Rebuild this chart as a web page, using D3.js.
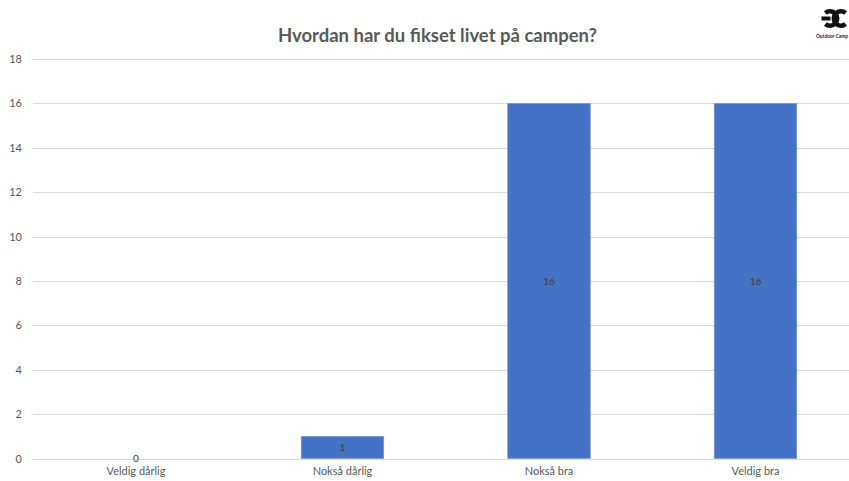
<!DOCTYPE html>
<html><head><meta charset="utf-8">
<script src="https://cdn.jsdelivr.net/npm/d3@7"></script>
<style>body{margin:0;background:#fff}svg{display:block}</style>
</head><body>
<script>
const categories = ["Veldig dårlig","Nokså dårlig","Nokså bra","Veldig bra"];
const values = [0,1,16,16];
const yTicks = [0,2,4,6,8,10,12,14,16,18];
const title = "Hvordan har du fikset livet på campen?";

const W=849,H=481;
const svg=d3.select("body").append("svg").attr("width",W).attr("height",H);
const font="Lato, 'Open Sans', sans-serif";
const x=d3.scaleBand().domain(categories).range([32.75,858.75]).paddingInner(0.6).paddingOuter(0.3);
const y=d3.scaleLinear().domain([0,18]).range([458.5,59]);

// gridlines
svg.append("g").selectAll("line").data(yTicks).join("line")
 .attr("x1",33).attr("x2",W).attr("y1",d=>Math.round(y(d))+0.5).attr("y2",d=>Math.round(y(d))+0.5)
 .attr("stroke","#d9d9d9").attr("stroke-width",1);

// y axis labels
const yAxis=d3.axisLeft(y).tickValues(yTicks).tickSize(0).tickPadding(0);
const gy=svg.append("g").attr("transform","translate(22,0)").call(yAxis);
gy.select(".domain").remove();
gy.selectAll("text").attr("font-family",font).attr("font-size",11).attr("fill","#595959");

// x axis labels
const xAxis=d3.axisBottom(x).tickSize(0).tickPadding(0);
const gx=svg.append("g").attr("transform","translate(0,467)").call(xAxis);
gx.select(".domain").remove();
gx.selectAll("text").attr("font-family",font).attr("font-size",11).attr("fill","#595959").attr("dy","0.71em");

// bars
svg.append("g").selectAll("rect").data(categories).join("rect")
 .attr("x",d=>x(d)).attr("width",x.bandwidth())
 .attr("y",(d,i)=>y(values[i])).attr("height",(d,i)=>y(0)-y(values[i]))
 .attr("fill","#4472c4").attr("stroke","#7e9bd6").attr("stroke-width",0.6);

// data labels
svg.append("g").selectAll("text").data(categories).join("text")
 .attr("x",d=>x(d)+x.bandwidth()/2)
 .attr("y",(d,i)=>values[i]===0? y(0)+3.5 : (y(0)+y(values[i]))/2+4)
 .attr("text-anchor","middle").attr("font-family",font).attr("font-size",10).attr("fill","#404040")
 .text((d,i)=>values[i]);

// title
svg.append("text").attr("x",437.5).attr("y",42).attr("text-anchor","middle")
 .attr("font-family",font).attr("font-weight","bold").attr("font-size",18.5).attr("fill","#595959").text(title);

// logo
const lg=svg.append("g");
lg.append("path").attr("d",d3.arc()({innerRadius:5,outerRadius:9.5,startAngle:-0.22*Math.PI,endAngle:1.22*Math.PI}))
 .attr("fill","#111").attr("transform","translate(830,18.5)");
lg.append("rect").attr("x",821.5).attr("y",16.5).attr("width",9).attr("height",4).attr("fill","#111");
lg.append("path").attr("d",d3.arc()({innerRadius:5,outerRadius:9.5,startAngle:0.78*Math.PI,endAngle:2.22*Math.PI}))
 .attr("fill","#111").attr("transform","translate(841,18.5)");
svg.append("text").attr("x",816).attr("y",38).attr("font-family",font).attr("font-size",5).attr("font-weight","bold")
 .attr("fill","#222").attr("textLength",32).attr("lengthAdjust","spacingAndGlyphs").text("Outdoor Camp");
</script>
</body></html>
